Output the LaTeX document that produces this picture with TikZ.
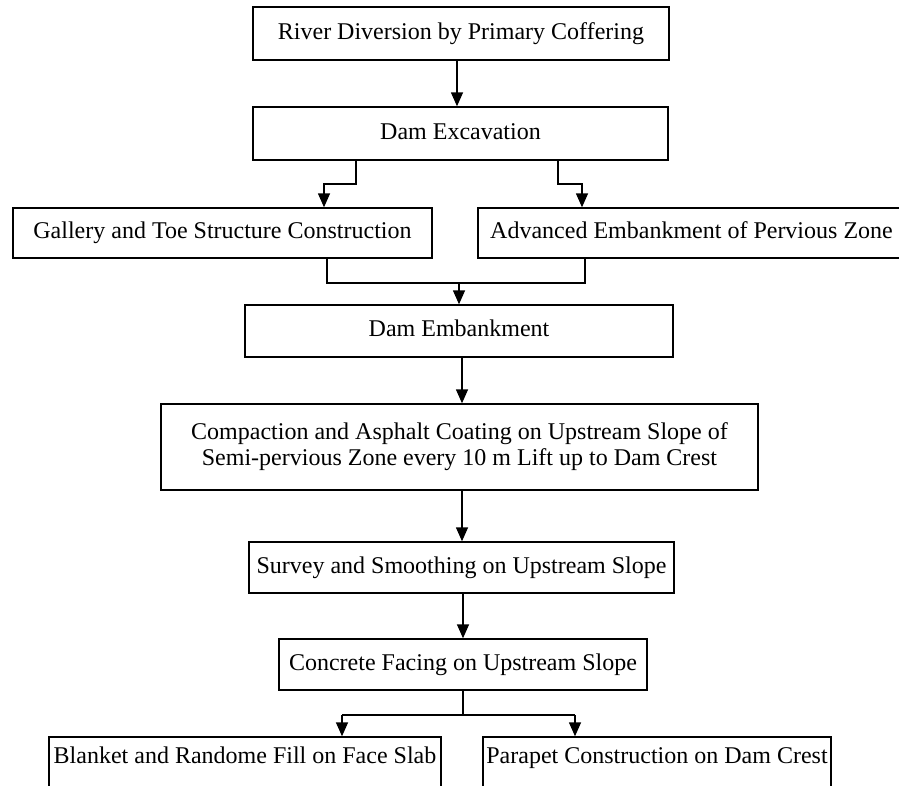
\documentclass[tikz,border=0pt]{standalone}
\usepackage{fontspec}
\setmainfont{Liberation Serif}
\usetikzlibrary{arrows.meta}
\begin{document}
\begin{tikzpicture}[x=1pt,y=-1pt,
  box/.style={draw, line width=1.4pt, inner sep=0pt, align=center,
    font=\fontsize{24}{26}\selectfont},
  one/.style={text height=16.5pt, text depth=5pt},
  arr/.style={line width=1.5pt, -{Triangle[length=14pt,width=12pt]}},
  ln/.style={line width=1.5pt}]
\useasboundingbox (0,0) rectangle (899,786);
\clip (0,0) rectangle (899,786);
\fill[white] (0,0) rectangle (899,786);
% boxes
\node[box, one, minimum width=416, minimum height=53] (b1) at (461,33.5) {River Diversion by Primary Coffering};
\node[box, one, minimum width=415, minimum height=53] (b2) at (460.5,133.5) {Dam Excavation};
\node[box, one, minimum width=419, minimum height=50] (gal) at (222.5,233) {Gallery and Toe Structure Construction};
\node[box, one, minimum width=427, minimum height=50] (adv) at (691.5,233) {Advanced Embankment of Pervious Zone};
\node[box, one, minimum width=428, minimum height=52] (emb) at (459,331) {Dam Embankment};
\node[box, minimum width=597, minimum height=86] (cmp) at (459.5,447) {Compaction and Asphalt Coating on Upstream Slope of\\Semi-pervious Zone every 10 m Lift up to Dam Crest};
\node[box, one, minimum width=425, minimum height=51] (sur) at (461.5,567.5) {Survey and Smoothing on Upstream Slope};
\node[box, one, minimum width=368, minimum height=51] (con) at (463,664.5) {Concrete Facing on Upstream Slope};
\node[box, text height=16.5pt, text depth=17pt, minimum width=392, minimum height=53] (bla) at (245,763.5) {Blanket and Randome Fill on Face Slab};
\node[box, text height=16.5pt, text depth=17pt, minimum width=348, minimum height=53] (par) at (657,763.5) {Parapet Construction on Dam Crest};
% helper coordinates
\coordinate (a1) at (457,0);
\coordinate (s1) at (356,184);
\coordinate (s2) at (324,184);
\coordinate (s3) at (558,184);
\coordinate (s4) at (582,184);
\coordinate (m1) at (327,283);
\coordinate (m2) at (585,283);
\coordinate (m0) at (459,283);
\coordinate (a2) at (462,0);
\coordinate (a3) at (463,0);
\coordinate (c0) at (463,715);
\coordinate (c1) at (342,715);
\coordinate (c2) at (575,715);
% connectors
\draw[arr] (b1.south -| a1) -- (b2.north -| a1);
\draw[arr] (b2.south -| s1) -- (s1) -- (s2) -- (gal.north -| s2);
\draw[arr] (b2.south -| s3) -- (s3) -- (s4) -- (adv.north -| s4);
\draw[ln] (gal.south -| m1) -- (m1) -- (m2) -- (adv.south -| m2);
\draw[arr] (m0) -- (emb.north -| m0);
\draw[arr] (emb.south -| a2) -- (cmp.north -| a2);
\draw[arr] (cmp.south -| a2) -- (sur.north -| a2);
\draw[arr] (sur.south -| a3) -- (con.north -| a3);
\draw[ln] (con.south -| c0) -- (c0);
\draw[ln] (c1) -- (c2);
\draw[arr] (c1) -- (bla.north -| c1);
\draw[arr] (c2) -- (par.north -| c2);
\end{tikzpicture}
\end{document}
